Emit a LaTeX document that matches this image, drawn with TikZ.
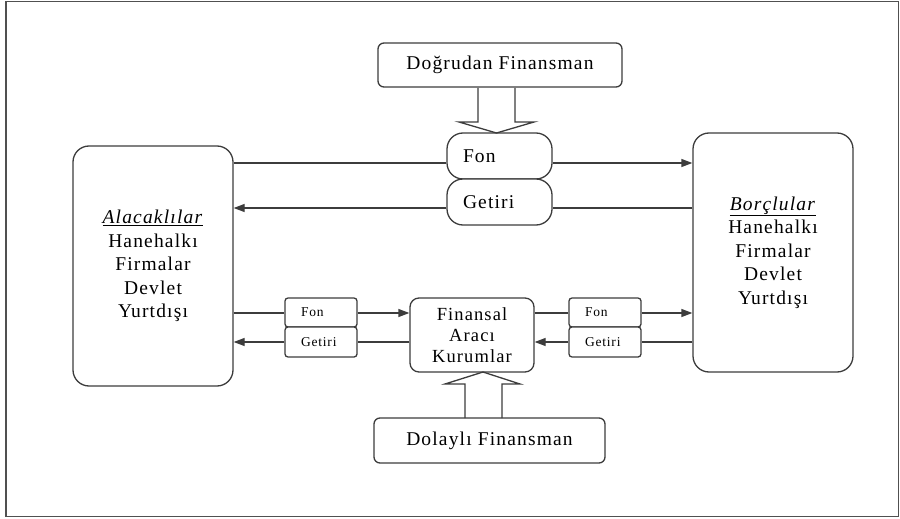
\documentclass[tikz,border=0pt]{standalone}
\usepackage{fontspec}
\setmainfont{Liberation Serif}[LetterSpace=6]
\usetikzlibrary{arrows.meta}
\definecolor{linegray}{RGB}{60,60,60}
\definecolor{framegray}{RGB}{80,80,80}
\newcommand\bigtxt{\fontsize{19.5}{23.5}\selectfont}
\newcommand\midtxt{\fontsize{18.5}{20.7}\selectfont}
\newcommand\smalltxt{\fontsize{13.5}{14}\selectfont}

\begin{document}
\begin{tikzpicture}[x=1pt, y=-1pt,
    box/.style={draw=linegray, line width=1.3pt, fill=white, rounded corners=#1,
                inner sep=0pt, align=center},
    box/.default=6pt,
    pill/.style={box=16pt, minimum height=46pt, inner xsep=16pt, text width=73pt,
                 align=left, font=\bigtxt},
    tag/.style={box=3pt, minimum height=29pt, inner xsep=16pt, text width=40pt,
                align=left, font=\smalltxt},
    link/.style={draw=linegray, line width=1.3pt},
    flow/.style={link, -{Triangle[length=11pt,width=8pt]}}]
    \useasboundingbox (0,0) rectangle (900,519);
    \draw[framegray, line width=1.3pt] (6,1.5) rectangle (898.5,516.5);

    % direct financing
    \node[box, minimum width=244pt, minimum height=44pt, font=\bigtxt] (dogru) at (500,65) {Doğrudan Finansman};
    \node[pill] (fon) at (499.5,156) {Fon};
    \node[pill] (getiri) at (499.5,202) {Getiri};

    % lenders and borrowers
    \node[box=16pt, minimum width=160pt, minimum height=240pt, font=\bigtxt] (alacak) at (153,266)
        {\underline{\textit{Alacaklılar}}\\Hanehalkı\\Firmalar\\Devlet\\Yurtdışı};
    \node[box=16pt, minimum width=160pt, minimum height=239pt, font=\bigtxt] (borc) at (773,252.5)
        {\underline{\textit{Borçlular}}\\Hanehalkı\\Firmalar\\Devlet\\Yurtdışı};

    % indirect financing
    \node[box=9pt, minimum width=124pt, minimum height=74pt, font=\midtxt] (aracı) at (472,335)
        {Finansal\\Aracı\\Kurumlar};
    \node[box, minimum width=231pt, minimum height=45pt, font=\bigtxt] (dolayli) at (489.5,440.5) {Dolaylı Finansman};
    \node[tag] (lfon) at (321,312.5) {Fon};
    \node[tag, minimum height=30pt] (lget) at (321,342) {Getiri};
    \node[tag] (rfon) at (605,312.5) {Fon};
    \node[tag, minimum height=30pt] (rget) at (605,342) {Getiri};

    \coordinate (fonY) at (0,163);
    \coordinate (getY) at (0,208);
    \coordinate (bfonY) at (0,313);
    \coordinate (bgetY) at (0,342);

    % upper flows
    \draw[link] (alacak.east |- fonY) -- (fon.west |- fonY);
    \draw[flow] (fon.east |- fonY) -- (borc.west |- fonY);
    \draw[link] (borc.west |- getY) -- (getiri.east |- getY);
    \draw[flow] (getiri.west |- getY) -- (alacak.east |- getY);

    % lower flows
    \draw[link] (alacak.east |- bfonY) -- (lfon.west |- bfonY);
    \draw[flow] (lfon.east |- bfonY) -- (aracı.west |- bfonY);
    \draw[link] (aracı.west |- bgetY) -- (lget.east |- bgetY);
    \draw[flow] (lget.west |- bgetY) -- (alacak.east |- bgetY);
    \draw[link] (aracı.east |- bfonY) -- (rfon.west |- bfonY);
    \draw[flow] (rfon.east |- bfonY) -- (borc.west |- bfonY);
    \draw[link] (borc.west |- bgetY) -- (rget.east |- bgetY);
    \draw[flow] (rget.west |- bgetY) -- (aracı.east |- bgetY);

    % block arrows
    \draw[link, line join=miter] (478,88) -- (478,122) -- (459,122) -- (496.5,133)
        -- (534,122) -- (515,122) -- (515,88);
    \draw[link, line join=miter] (465,418) -- (465,384) -- (445,384) -- (483,372)
        -- (520,384) -- (502,384) -- (502,418);
\end{tikzpicture}
\end{document}
